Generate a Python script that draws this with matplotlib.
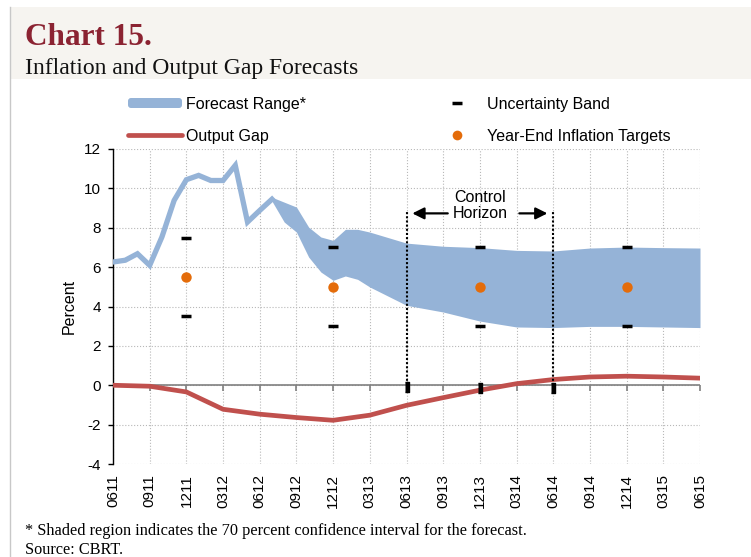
import numpy as np
import matplotlib
matplotlib.use('Agg')
import matplotlib.pyplot as plt
from matplotlib.patches import Rectangle, FancyBboxPatch

# x positions are month indices counted from 0611 (0 = 0611, 48 = 0615)
tick_labels = ['0611', '0911', '1211', '0312', '0612', '0912', '1212', '0313', '0613',
               '0913', '1213', '0314', '0614', '0914', '1214', '0315', '0615']
tick_pos = np.arange(0, 49, 3)

# realised inflation (thick line part of the forecast range)
hist_month = [0, 1, 2, 3, 4, 5, 6, 7, 8, 9, 10, 11, 12, 13]
hist_val = [6.26, 6.35, 6.68, 6.09, 7.53, 9.39, 10.44, 10.66, 10.4, 10.4, 11.17, 8.29, 8.88, 9.45]

# forecast range (70% band)
band_month = [12, 13, 14, 15, 16, 17, 18, 19, 20, 21, 24, 27, 30, 33, 36, 39, 42, 45, 48]
band_upper = [8.88, 9.55, 9.3, 9.05, 8.03, 7.53, 7.36, 7.92, 7.92, 7.78, 7.22, 7.06, 6.99, 6.85, 6.82, 6.97, 7.02, 6.99, 6.97]
band_lower = [8.88, 9.35, 8.29, 7.78, 6.51, 5.75, 5.33, 5.55, 5.38, 4.99, 4.06, 3.72, 3.26, 2.96, 2.93, 2.99, 2.99, 2.96, 2.93]

# output gap (quarterly)
gap_val = [0.0, -0.05, -0.34, -1.22, -1.47, -1.64, -1.78, -1.52, -1.02, -0.63, -0.25, 0.08, 0.29, 0.42, 0.46, 0.42, 0.36]

# year-end targets and uncertainty band
target_month = [6, 18, 30, 42]
target_val = [5.5, 5.0, 5.0, 5.0]
unc_high = [7.5, 7.0, 7.0, 7.0]
unc_low = [3.5, 3.0, 3.0, 3.0]

# control horizon
horizon_start, horizon_end = 24, 36
horizon_top = 8.78
horizon_mark_month = [24, 30, 36]
horizon_mark_val = [-0.08, -0.14, -0.14]

blue = '#95b3d7'
red = '#c0504d'
orange = '#e46c0a'

plt.rcParams['font.family'] = ['Liberation Sans', 'DejaVu Sans']
plt.rcParams['axes.unicode_minus'] = False

W, H = 751, 557
fig = plt.figure(figsize=(W / 100, H / 100), dpi=100)

# background layer in pixel coords for header, legend, footnote
lax = fig.add_axes([0, 0, 1, 1], zorder=0)
lax.set_xlim(0, W)
lax.set_ylim(H, 0)
lax.axis('off')
lax.add_patch(Rectangle((10, 7), W - 10, 72, color='#f6f4f0', lw=0))
lax.plot([9.5, 9.5], [7, H], color='#c8c8c8', lw=1)
lax.text(25, 45, 'Chart 15.', family='Liberation Serif', fontweight='bold', fontsize=22.5,
         color='#8b2332', va='baseline')
lax.text(25, 74, 'Inflation and Output Gap Forecasts', family='Liberation Serif', fontsize=17,
         color='#111111', va='baseline')
lax.text(25, 535, '* Shaded region indicates the 70 percent confidence interval for the forecast.',
         family='Liberation Serif', fontsize=11.7, va='baseline')
lax.text(25, 554, 'Source: CBRT.', family='Liberation Serif', fontsize=11.7, va='baseline')

# legend
lax.add_patch(FancyBboxPatch((128, 98), 54, 10, boxstyle='round,pad=0,rounding_size=3',
                             color=blue, lw=0))
lax.text(186, 104, 'Forecast Range*', fontsize=11.5, va='center')
lax.plot([128, 182], [135, 135], color=red, lw=3.4, solid_capstyle='round')
lax.text(186, 136, 'Output Gap', fontsize=11.5, va='center')
lax.plot([457], [103], marker='_', ms=7.5, mew=2.5, color='black')
lax.text(487, 104, 'Uncertainty Band', fontsize=11.5, va='center')
lax.plot([457], [135], marker='o', ms=7, color=orange, mec='none')
lax.text(487, 136, 'Year-End Inflation Targets', fontsize=11.5, va='center')

# main chart
ax = fig.add_axes([113 / W, 1 - 464 / H, 587 / W, 315 / H], zorder=1)
ax.set_xlim(0, 48)
ax.set_ylim(-4, 12)

ax.fill_between(band_month, band_lower, band_upper, color=blue, lw=0, zorder=3)
ax.plot(hist_month, hist_val, color=blue, lw=3.8, zorder=3, solid_joinstyle='miter')

ax.plot(tick_pos, gap_val, color=red, lw=3.4, zorder=4)

ax.axhline(0, color='#808080', lw=1.2, zorder=2)
ax.plot(tick_pos, np.zeros(len(tick_pos)), ls='none', marker=3, ms=4, mew=1.2,
        color='#808080', zorder=2)

ax.plot(target_month, unc_high, ls='none', marker='_', ms=7.5, mew=2.5, color='black', zorder=5)
ax.plot(target_month, unc_low, ls='none', marker='_', ms=7.5, mew=2.5, color='black', zorder=5)
ax.plot(target_month, target_val, ls='none', marker='o', ms=7.5, color=orange, mec='none', zorder=6)

for m in (horizon_start, horizon_end):
    ax.plot([m, m], [0, horizon_top], color='black', lw=1.5, ls=(0, (1, 1)), zorder=5)
rect = [(-0.5, -1), (0.5, -1), (0.5, 1), (-0.5, 1)]
ax.plot(horizon_mark_month, horizon_mark_val, ls='none', marker=rect, ms=7,
        color='black', zorder=6)

ax.annotate('', xy=(horizon_start + 0.25, 8.73), xytext=(27.6, 8.73),
            arrowprops=dict(arrowstyle='-|>,head_length=0.7,head_width=0.35', color='black', lw=1.6),
            zorder=6)
ax.annotate('', xy=(horizon_end - 0.25, 8.73), xytext=(33.0, 8.73),
            arrowprops=dict(arrowstyle='-|>,head_length=0.7,head_width=0.35', color='black', lw=1.6),
            zorder=6)
ax.text(30.0, 9.12, 'Control\nHorizon', ha='center', va='center', fontsize=11.5,
        linespacing=1.1, zorder=6)

ax.set_xticks(tick_pos)
ax.set_xticklabels(tick_labels, rotation=90, fontsize=11)
ax.set_yticks(np.arange(-4, 13, 2))
ax.tick_params(axis='x', length=0, pad=7)
ax.tick_params(axis='y', length=3.5, width=1, direction='out', pad=5, labelsize=11)
ax.grid(True, ls=':', color='#b8b8b8', lw=0.8)
ax.set_axisbelow(True)
for s in ('top', 'right', 'bottom'):
    ax.spines[s].set_visible(False)
ax.spines['left'].set_linewidth(1)
ax.set_ylabel('Percent', fontsize=11.5, labelpad=5)

fig.savefig('out.png', dpi=100)
